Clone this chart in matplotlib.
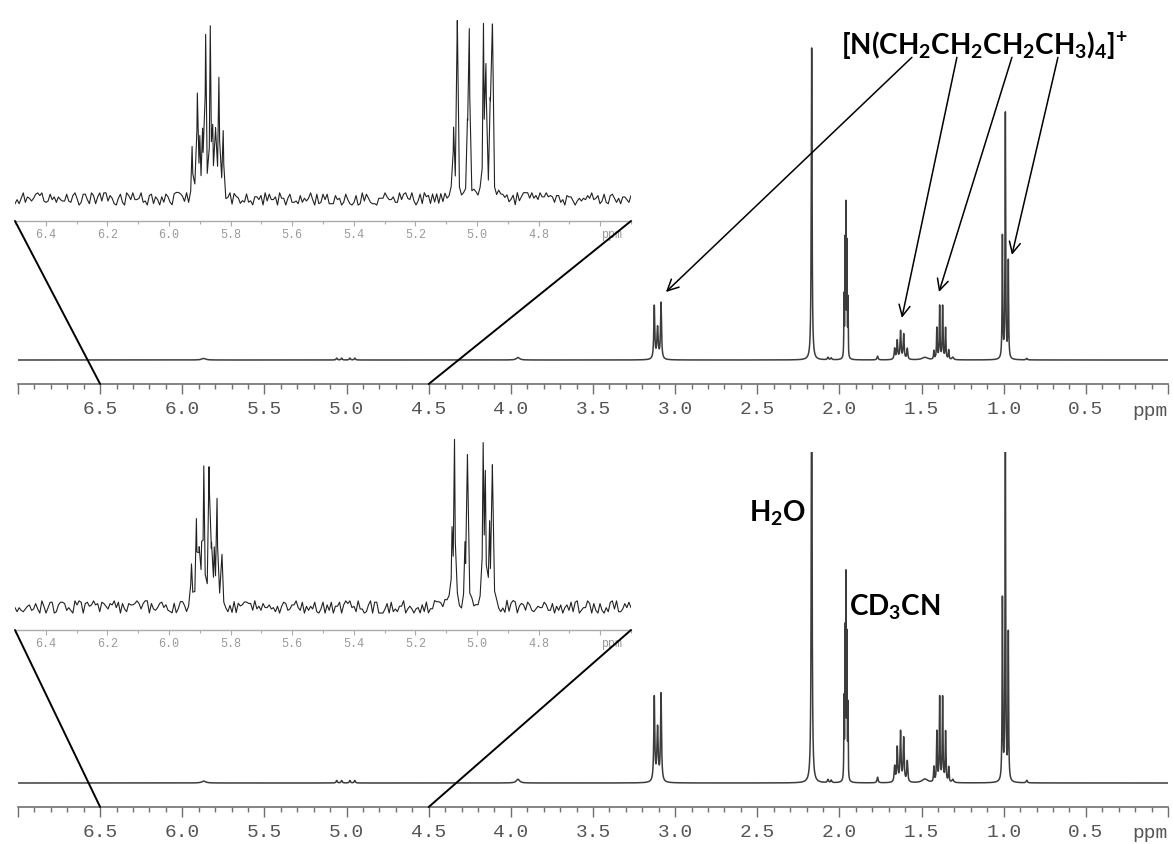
import numpy as np
import matplotlib
matplotlib.use('Agg')
import matplotlib.pyplot as plt
from matplotlib.patches import ConnectionPatch
from matplotlib.ticker import MultipleLocator

W, H = 1173, 844

# ---- main spectra: line positions (ppm), heights, half widths ----
line_pos = [5.87, 5.06, 5.03, 4.98, 4.95, 3.957,
            3.127, 3.107, 3.086, 2.169, 2.07, 2.05,
            1.972, 1.966, 1.960, 1.954, 1.948, 1.768,
            1.664, 1.648, 1.628, 1.609, 1.587, 1.48,
            1.425, 1.407, 1.390, 1.372, 1.354, 1.335, 1.31,
            1.008, 0.990, 0.972, 0.86]
line_width = [0.015, 0.004, 0.004, 0.004, 0.004, 0.012,
              0.0035, 0.0045, 0.0035, 0.0028, 0.004, 0.004,
              0.0014, 0.0014, 0.0014, 0.0014, 0.0014, 0.004,
              0.0035, 0.0035, 0.0035, 0.0035, 0.0035, 0.02,
              0.0025, 0.0025, 0.0025, 0.0025, 0.0025, 0.0025, 0.006,
              0.0022, 0.0022, 0.0022, 0.004]
top_height = [0.005, 0.006, 0.006, 0.006, 0.006, 0.008,
              0.17, 0.10, 0.18, 1.0, 0.008, 0.006,
              0.19, 0.36, 0.47, 0.35, 0.18, 0.012,
              0.035, 0.06, 0.09, 0.08, 0.035, 0.008,
              0.027, 0.10, 0.17, 0.17, 0.10, 0.03, 0.008,
              0.39, 0.785, 0.31, 0.005]
bot_height = [0.006, 0.008, 0.008, 0.008, 0.008, 0.012,
              0.27, 0.17, 0.28, 1.5, 0.01, 0.008,
              0.25, 0.46, 0.63, 0.44, 0.23, 0.018,
              0.05, 0.11, 0.16, 0.14, 0.067, 0.012,
              0.048, 0.16, 0.27, 0.27, 0.16, 0.048, 0.01,
              0.58, 1.18, 0.47, 0.008]

# ---- expanded 6.5-4.5 ppm region (insets) ----
ins_top_pos = [5.925, 5.908, 5.900, 5.891, 5.881, 5.866, 5.858, 5.849, 5.838, 5.824,
               5.076, 5.064, 5.031, 5.025, 4.979, 4.971, 4.957, 4.950]
ins_top_height = [0.27, 0.54, 0.28, 0.32, 0.85, 0.89, 0.32, 0.32, 0.63, 0.35,
                  0.36, 0.95, 0.34, 0.88, 0.90, 0.66, 0.46, 0.90]
ins_bot_pos = [5.927, 5.911, 5.902, 5.894, 5.887, 5.870, 5.862, 5.853, 5.844, 5.828,
               5.081, 5.073, 5.039, 5.031, 4.980, 4.973, 4.959, 4.950]
ins_bot_height = [0.22, 0.45, 0.27, 0.27, 0.72, 0.72, 0.28, 0.27, 0.56, 0.27,
                  0.38, 0.88, 0.30, 0.80, 0.83, 0.66, 0.41, 0.74]
ins_width = 0.002

# baseline noise of the insets (digits 0-9, read as a jagged trace)
noise_top = ("1415926535897932384626433832795028841971693993751058209749445923"
             "0781640628620899862803482534211706798214808651328230664709384460"
             "9550582231725359408128481117450284102701938521105559644622948954"
             "9303819671828182845904523536028747135266249775724709369995957496"
             "6967627724076630353547594571382178525166427")
noise_bot = ("4142135623730950488016887242096980785696718753769480731766797379"
             "9073247846210703885038753432764157277320508075688772935274463415"
             "0587236694280525381038062805580697945193301690880003708131559035"
             "3034061803398874989484820458683436563811772030917980576286213544"
             "8622705260462818902449707207204189391137484")
noise_amp = 0.033

# axis ticks
main_ticks = [7.0, 6.5, 6.0, 5.5, 5.0, 4.5, 4.0, 3.5, 3.0, 2.5, 2.0, 1.5, 1.0, 0.5, 0.0]
main_labels = ['', '6.5', '6.0', '5.5', '5.0', '4.5', '4.0', '3.5', '3.0', '2.5',
               '2.0', '1.5', '1.0', '0.5', '']
ins_ticks = [6.4, 6.2, 6.0, 5.8, 5.6, 5.4, 5.2, 5.0, 4.8, 4.6]
ins_labels = ['6.4', '6.2', '6.0', '5.8', '5.6', '5.4', '5.2', '5.0', '4.8', '']

# arrows from the cation label to its signals (ppm, intensity)
arrow_tail_ppm = [1.559, 1.285, 0.950, 0.670]
arrow_tail_y = [0.97, 0.97, 0.97, 0.97]
arrow_head_ppm = [3.056, 1.620, 1.394, 0.950]
arrow_head_y = [0.218, 0.135, 0.218, 0.337]

plt.rcParams['mathtext.fontset'] = 'custom'
plt.rcParams['mathtext.rm'] = 'Lato:bold'
plt.rcParams['mathtext.it'] = 'Lato:bold'
plt.rcParams['mathtext.bf'] = 'Lato:bold'

fig = plt.figure(figsize=(W / 100, H / 100), dpi=100)
fig.patch.set_facecolor('white')


def px_axes(x0, y0, x1, y1):
    ax = fig.add_axes([x0 / W, 1 - y1 / H, (x1 - x0) / W, (y1 - y0) / H])
    ax.patch.set_visible(False)
    for s in ('top', 'left', 'right'):
        ax.spines[s].set_visible(False)
    ax.set_yticks([])
    return ax


def spectrum(x, pos, height, width):
    y = np.zeros_like(x)
    for p, h, w in zip(pos, height, width):
        y += h / (1 + ((x - p) / w) ** 2)
    return y


def style_main(ax):
    ax.set_xlim(7.0, 0.0)
    ax.spines['bottom'].set_color('#707070')
    ax.spines['bottom'].set_linewidth(1.2)
    ax.set_xticks(main_ticks)
    ax.set_xticklabels(main_labels, fontfamily='Liberation Mono')
    ax.xaxis.set_minor_locator(MultipleLocator(0.1))
    ax.tick_params(axis='x', which='major', direction='out', length=7.2, width=1.0,
                   color='#707070', pad=5, labelsize=14, labelcolor='#555555')
    ax.tick_params(axis='x', which='minor', direction='out', length=3.6, width=1.0,
                   color='#707070')
    ax.annotate('ppm', xy=(0.0, 0), xycoords=('data', 'axes fraction'),
                xytext=(0, -27), textcoords='offset pixels', ha='right', va='center',
                fontsize=14, color='#555555', fontfamily='Liberation Mono',
                annotation_clip=False)


def style_inset(ax):
    ax.set_xlim(6.5, 4.5)
    ax.spines['bottom'].set_color('#aaaaaa')
    ax.spines['bottom'].set_linewidth(1.0)
    ax.set_xticks(ins_ticks)
    ax.set_xticklabels(ins_labels, fontfamily='Liberation Mono')
    ax.xaxis.set_minor_locator(MultipleLocator(0.1))
    ax.tick_params(axis='x', which='major', direction='out', length=3.6, width=0.8,
                   color='#aaaaaa', pad=2, labelsize=8.5, labelcolor='#999999')
    ax.tick_params(axis='x', which='minor', direction='out', length=2.0, width=0.8,
                   color='#aaaaaa')
    ax.annotate('ppm', xy=(4.53, 0), xycoords=('data', 'axes fraction'),
                xytext=(0, -14), textcoords='offset pixels', ha='right', va='center',
                fontsize=8.5, color='#999999', fontfamily='Liberation Mono',
                annotation_clip=False)


# main spectra
x_main = np.sort(np.concatenate([np.linspace(0.0, 7.0, 60001), line_pos]))[::-1]

ax_top = px_axes(18, 0, 1168, 384)
ax_top.plot(x_main, spectrum(x_main, line_pos, top_height, line_width),
            color='#3c3c3c', lw=1.1)
ax_top.set_ylim(-24 / 312, 360 / 312)
style_main(ax_top)

ax_bot = px_axes(18, 452, 1168, 807)
ax_bot.plot(x_main, spectrum(x_main, line_pos, bot_height, line_width),
            color='#3c3c3c', lw=1.1)
ax_bot.set_ylim(-24 / 312, 331 / 312)
style_main(ax_bot)


# insets
def inset_trace(pos, height, noise_str):
    noise = (np.array([int(c) for c in noise_str]) - 4.5) / 4.5 * noise_amp
    xs = np.linspace(6.5, 4.5, len(noise))
    x = np.concatenate([xs, pos])
    n = np.concatenate([noise, np.zeros(len(pos))])
    order = np.argsort(x)[::-1]
    x, n = x[order], n[order]
    return x, spectrum(x, pos, height, [ins_width] * len(pos)) + n


ins_top = px_axes(15, 5, 631, 221)
xi, yi = inset_trace(ins_top_pos, ins_top_height, noise_top)
ins_top.plot(xi, yi, color='#222222', lw=0.8)
ins_top.set_ylim(-22 / 185, 194 / 185)
style_inset(ins_top)

ins_bot = px_axes(15, 414, 631, 630)
xi, yi = inset_trace(ins_bot_pos, ins_bot_height, noise_bot)
ins_bot.plot(xi, yi, color='#222222', lw=0.8)
ins_bot.set_ylim(-23 / 185, 193 / 185)
style_inset(ins_bot)

# connector lines from inset axis ends to 6.5 and 4.5 ppm
for ins, main in ((ins_top, ax_top), (ins_bot, ax_bot)):
    for p in (6.5, 4.5):
        con = ConnectionPatch(xyA=(p, 0), coordsA=ins.get_xaxis_transform(),
                              xyB=(p, 0), coordsB=main.get_xaxis_transform(),
                              color='black', lw=1.4)
        fig.add_artist(con)

# labels
ax_top.text(1.114, 1.01, r'[N(CH$_2$CH$_2$CH$_2$CH$_3$)$_4]^{+}$', ha='center', va='center',
            fontsize=20, fontweight='bold', fontfamily='Lato')
for tp, ty, hp, hy in zip(arrow_tail_ppm, arrow_tail_y, arrow_head_ppm, arrow_head_y):
    ax_top.annotate('', xy=(hp, hy), xytext=(tp, ty),
                    arrowprops=dict(arrowstyle='->', color='black', lw=1.1,
                                    mutation_scale=20, shrinkA=0, shrinkB=0))

ax_bot.text(2.374, 0.865, r'H$_2$O', ha='center', va='center',
            fontsize=20, fontweight='bold', fontfamily='Lato')
ax_bot.text(1.662, 0.564, r'CD$_3$CN', ha='center', va='center',
            fontsize=20, fontweight='bold', fontfamily='Lato')

fig.savefig('out.png', dpi=100, facecolor='white')
